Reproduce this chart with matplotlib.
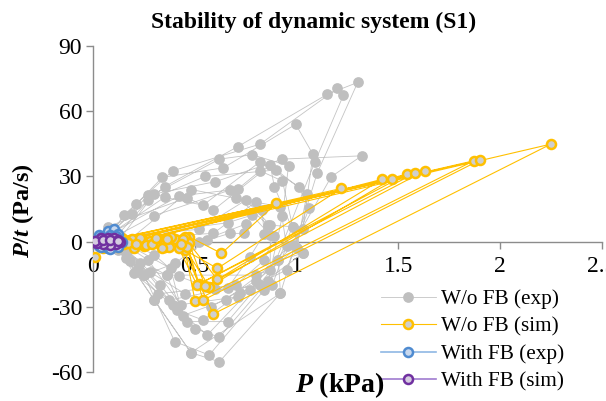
import matplotlib
matplotlib.use("Agg")
from matplotlib import pyplot as plt

plt.rcParams["font.family"] = ["Liberation Serif", "DejaVu Serif"]
plt.rcParams["mathtext.fontset"] = "custom"
plt.rcParams["mathtext.it"] = "Liberation Serif:italic:bold"
plt.rcParams["mathtext.rm"] = "Liberation Serif:bold"
plt.rcParams["axes.unicode_minus"] = False

# W/o FB (exp): pressure P (kPa) and its rate P/t (Pa/s), loop after loop
exp_nofb_P = [0.02, 0.06, 0.19, 0.35, 0.71, 1.15, 1.30, 1.10, 0.92, 0.62, 0.48, 0.30, 0.16, 0.07,
              0.15, 0.39, 0.82, 1.20, 1.23, 1.09, 0.84, 0.57, 0.40, 0.25, 0.12, 0.05,
              0.21, 0.34, 0.64, 0.995, 1.08, 1.03, 0.77, 0.56, 0.39, 0.20, 0.08,
              0.27, 0.60, 0.93, 1.32, 1.17, 0.98, 0.66, 0.46, 0.36, 0.16, 0.06,
              0.35, 0.54, 0.82, 1.01, 1.06, 0.95, 0.72, 0.54, 0.41, 0.23, 0.09,
              0.42, 0.71, 0.82, 0.93, 0.98, 0.91, 0.65, 0.44, 0.38, 0.20, 0.07,
              0.46, 0.59, 0.87, 0.89, 1.03, 0.82, 0.71, 0.43, 0.27, 0.10,
              0.52, 0.75, 0.87, 0.89, 0.84, 0.70, 0.32, 0.12, 0.04,
              0.59, 0.80, 0.83, 0.84, 0.77, 0.66, 0.37, 0.18, 0.05,
              0.66, 0.78, 0.87, 0.87, 0.80, 0.36, 0.22, 0.06,
              0.52, 0.75, 0.74, 0.67, 0.56, 0.40, 0.25, 0.08,
              0.30, 0.67, 0.86, 0.98, 1.03, 0.91, 0.92, 0.48, 0.30, 0.10,
              0.27, 0.55, 0.90, 1.05, 1.00, 0.80, 0.58, 0.45, 0.28, 0.12,
              0.30, 0.62, 0.78, 0.96, 0.93, 0.86, 0.62, 0.50, 0.33, 0.14,
              0.48, 0.70, 0.92, 0.95, 0.88, 0.60, 0.42, 0.30, 0.10]
exp_nofb_V = [0.5, 2.5, 12.7, 25.3, 43.7, 67.8, 73.3, 31.4, -23.8, -55.3, -51.1, -26.9, -7.7, 1.0,
              12.2, 32.6, 44.9, 70.5, 67.5, 36.8, -22.3, -52.2, -46.0, -15.4, -2.0, 1.5,
              17.2, 29.6, 34.0, 54.0, 40.2, 5.7, -22.3, -43.0, -29.2, -14.6, 3.0,
              21.4, 27.6, 38.0, 39.5, 29.9, -1.6, -36.8, -36.8, -15.4, -5.0, 2.0,
              20.4, 16.8, 36.8, 25.3, 15.3, -13.0, -23.8, -36.1, -31.5, -10.0, 4.0,
              21.0, 24.2, 32.6, 27.9, 6.9, -8.5, -26.9, -34.0, -12.3, -3.0, 6.9,
              20.2, 14.5, 35.3, 25.3, -5.4, -20.0, -25.4, -29.0, -8.5, 2.0,
              5.7, 19.1, 7.6, 2.6, -8.5, -20.0, -24.0, -4.0, 1.0,
              3.8, 18.4, 14.5, 3.5, -7.0, -21.5, -27.0, -9.0, 1.0,
              8.7, 12.2, 3.0, -13.0, -15.4, -15.4, -12.0, 1.0,
              0.0, 8.1, 3.8, 3.8, 0.7, -10.0, -15.4, 1.0,
              12.0, 23.7, 7.6, 6.9, -5.4, -8.5, -23.8, -51.1, -26.9, 1.0,
              19.0, 30.0, 33.0, 22.0, -3.0, -18.0, -30.0, -24.0, -14.0, 0.0,
              22.0, 38.0, 40.0, 35.0, 12.0, -18.0, -44.0, -40.0, -20.0, -2.0,
              24.0, 20.0, 16.0, -2.0, -20.0, -22.0, -16.0, -6.0, 3.0]

# W/o FB (sim)
sim_nofb_P = [0.01, 0.05, 0.12, 0.90, 0.63, 0.47, 0.43, 0.36, 0.22, 0.14,
              1.22, 0.61, 0.45, 0.35, 0.27, 0.20, 0.12,
              1.42, 0.61, 0.46, 0.40, 0.30, 0.18, 0.10,
              1.47, 0.57, 0.44, 0.33, 0.24, 0.15,
              1.54, 0.52, 0.45, 0.37, 0.28, 0.19,
              1.58, 0.51, 0.42, 0.32, 0.25, 0.13,
              1.63, 0.55, 0.47, 0.38, 0.26, 0.16,
              1.87, 0.50, 0.44, 0.34, 0.23, 0.11,
              1.90, 0.54, 0.46, 0.36, 0.29, 0.17,
              2.25, 0.59, 0.43, 0.31, 0.21, 0.09, 0.04]
sim_nofb_V = [-7.0, -3.0, 1.5, 17.6, -5.4, 2.3, 0.7, 0.7, 0.7, 1.5,
              24.5, -12.3, -3.9, -2.3, -0.5, -3.0, -2.5,
              28.7, -17.4, 0.5, 1.0, 0.3, 0.8, 1.0,
              28.9, -20.7, -1.5, -1.0, 1.0, -1.0,
              31.0, -19.5, 2.0, -2.5, 0.5, 1.2,
              31.4, -20.0, -3.0, 1.5, -2.0, 0.5,
              32.6, -20.5, -0.5, 2.0, -1.5, 0.5,
              37.2, -27.2, 1.0, -3.0, 1.5, 0.0,
              37.5, -26.9, -2.5, 1.0, -1.0, -0.5,
              44.9, -33.3, -1.0, 1.5, -1.0, -1.5, -1.0]

# With FB (exp)
exp_fb_P = [0.01, 0.03, 0.07, 0.10, 0.12, 0.13, 0.11, 0.07, 0.03, 0.01, 0.04, 0.08,
            0.11, 0.14, 0.12, 0.08, 0.04, 0.02, 0.05, 0.09, 0.12]
exp_fb_V = [0.5, 3.0, 5.0, 5.8, 3.5, 0.5, -2.0, -3.0, -2.0, 0.0, 2.0, 3.0,
            2.5, 0.0, -2.5, -3.5, -2.5, -0.5, 1.5, 2.0, 1.0]

# With FB (sim)
sim_fb_P = [0.005, 0.015, 0.04, 0.07, 0.10, 0.12, 0.13, 0.11, 0.08, 0.05, 0.02, 0.01,
            0.05, 0.08, 0.12]
sim_fb_V = [0.0, 0.5, 1.5, 1.8, 1.5, 0.8, 0.0, -1.0, -1.5, -1.2, -0.8, 0.2,
            0.8, 0.6, 0.5]

fig = plt.figure(figsize=(6.06, 4.01), dpi=100)
ax = fig.add_axes([0.154, 0.0723, 0.839, 0.8127])

ax.plot(exp_nofb_P, exp_nofb_V, color="#C4C4C4", lw=0.6, marker="o", ms=6.7,
        mfc="#BFBFBF", mec="#BFBFBF", label="W/o FB (exp)", zorder=3)
ax.plot(sim_nofb_P, sim_nofb_V, color="#FFC000", lw=0.8, marker="o", ms=6.5,
        mfc="#CFCFCF", mec="#FFC000", mew=1.8, label="W/o FB (sim)", zorder=3)
ax.plot(exp_fb_P, exp_fb_V, color="#8FB8E4", lw=1.2, marker="o", ms=6.5,
        mfc="#C8D8EE", mec="#4F8BD0", mew=1.8, label="With FB (exp)", zorder=3)
ax.plot(sim_fb_P, sim_fb_V, color="#A07CCF", lw=1.2, marker="o", ms=6.5,
        mfc="#D5CCE0", mec="#7030A0", mew=1.8, label="With FB (sim)", zorder=3)

ax.set_xlim(0, 2.5)
ax.set_ylim(-60, 90)
ax.set_xticks([0, 0.5, 1, 1.5, 2, 2.5])
ax.set_xticklabels(["0", "0.5", "1", "1.5", "2", "2.5"])
ax.set_yticks([-60, -30, 0, 30, 60, 90])

ax.spines["top"].set_visible(False)
ax.spines["right"].set_visible(False)
ax.spines["bottom"].set_position(("data", 0))
for s in ("left", "bottom"):
    ax.spines[s].set_color("#8C8C8C")
    ax.spines[s].set_linewidth(1.0)
ax.tick_params(axis="both", colors="#8C8C8C", labelcolor="black", labelsize=17,
               length=5, width=1.0, direction="out")
ax.tick_params(axis="x", pad=5)
ax.tick_params(axis="y", pad=3)
ax.patch.set_alpha(0)

fig.text(0.517, 0.945, "Stability of dynamic system (S1)", ha="center", va="center",
         fontsize=17, fontweight="bold")
fig.text(0.038, 0.474, r"$P$/$t$ (Pa/s)", rotation=90, ha="center", va="center",
         fontsize=17.5, fontweight="bold")
fig.text(0.561, 0.04, r"$P$ (kPa)", ha="center", va="center",
         fontsize=20, fontweight="bold")

ax.legend(loc="upper left", bbox_to_anchor=(0.607, 0.31), bbox_transform=fig.transFigure,
          frameon=False, fontsize=15.3, handlelength=2.6, handletextpad=0.25,
          labelspacing=0.36, borderpad=0.1)

fig.savefig("out.png", dpi=100)
